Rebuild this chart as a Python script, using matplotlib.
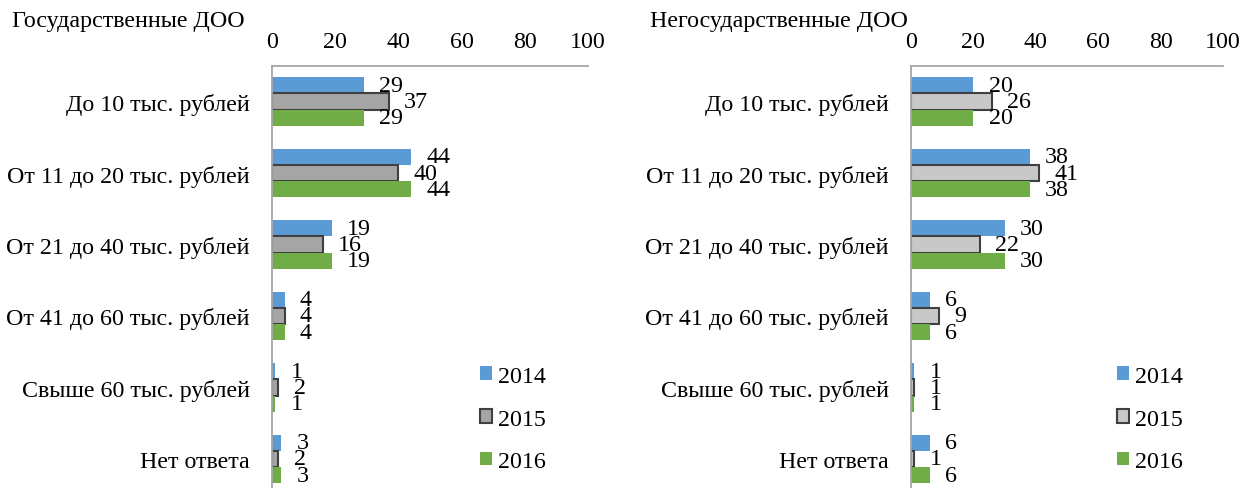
import matplotlib.pyplot as plt
import numpy as np
from matplotlib.patches import Patch

plt.rcParams['font.family'] = ['Liberation Serif', 'DejaVu Serif']

categories = ['До 10 тыс. рублей', 'От 11 до 20 тыс. рублей', 'От 21 до 40 тыс. рублей',
              'От 41 до 60 тыс. рублей', 'Свыше 60 тыс. рублей', 'Нет ответа']
years = ['2014', '2015', '2016']

gov_2014 = [29, 44, 19, 4, 1, 3]
gov_2015 = [37, 40, 16, 4, 2, 2]
gov_2016 = [29, 44, 19, 4, 1, 3]

priv_2014 = [20, 38, 30, 6, 1, 6]
priv_2015 = [26, 41, 22, 9, 1, 1]
priv_2016 = [20, 38, 30, 6, 1, 6]

ticks = [0, 20, 40, 60, 80, 100]

blue = '#5B9BD5'
green = '#70AD47'
edge = '#404040'
fs = 17.3

W, H = 1250, 489
fig = plt.figure(figsize=(W / 100, H / 100), dpi=100)


def panel(x0, width, s14, s15, s16, gray, leg_x):
    top = 66.75
    ax = fig.add_axes([x0 / W, 0, width / W, (H - top) / H])
    band = 71.5
    ax.set_ylim(-0.5 + (H - top) / band, -0.5)
    ax.set_xlim(0, 100)
    y = np.arange(len(categories))
    h = 0.228
    series = [(s14, blue, 'none', 0, -h), (s15, gray, edge, 1.5, 0), (s16, green, 'none', 0, h)]
    for vals, col, ec, lw, off in series:
        bars = ax.barh(y + off, vals, height=h, color=col, edgecolor=ec, linewidth=lw)
        for b, v in zip(bars, vals):
            ax.annotate(str(v), (b.get_width(), b.get_y() + b.get_height() / 2),
                        xytext=(11, 0), textcoords='offset points',
                        ha='left', va='center', fontsize=fs)
    ax.xaxis.tick_top()
    ax.set_xticks(ticks)
    ax.set_xticklabels([str(t) for t in ticks], fontsize=fs)
    ax.set_yticks(y)
    ax.set_yticklabels(categories, fontsize=fs)
    ax.tick_params(axis='both', length=0)
    ax.tick_params(axis='x', pad=10)
    ax.tick_params(axis='y', pad=16)
    for s in ['right', 'bottom']:
        ax.spines[s].set_visible(False)
    for s in ['left', 'top']:
        ax.spines[s].set_color('#A6A6A6')
        ax.spines[s].set_linewidth(1.3)
    handles = [Patch(facecolor=blue, edgecolor='none'),
               Patch(facecolor=gray, edgecolor=edge, linewidth=1.5),
               Patch(facecolor=green, edgecolor='none')]
    fig.legend(handles, years, loc='center left', bbox_to_anchor=(leg_x / W, 1 - 420 / H),
               frameon=False, fontsize=fs, handlelength=0.5, handleheight=0.5,
               handletextpad=0.25, labelspacing=0.9, borderpad=0, borderaxespad=0)
    return ax


panel(272, 316, gov_2014, gov_2015, gov_2016, '#A5A5A5', 480)
panel(911, 312, priv_2014, priv_2015, priv_2016, '#C8C8C8', 1117)

fig.text(12 / W, 1 - 22 / H, 'Государственные ДОО', fontsize=fs, ha='left', va='center')
fig.text(650 / W, 1 - 22 / H, 'Негосударственные ДОО', fontsize=fs, ha='left', va='center')

fig.savefig('out.png', dpi=100)
